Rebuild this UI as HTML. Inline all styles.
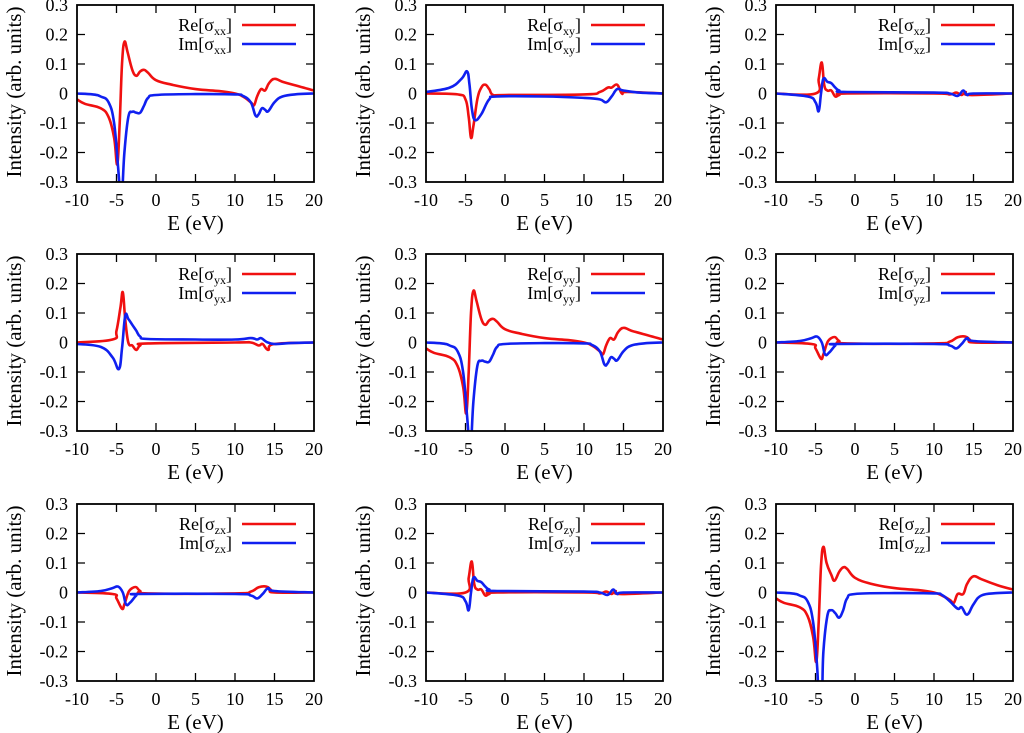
<!DOCTYPE html>
<html><head><meta charset="utf-8"><style>
body{margin:0;background:#fff}
svg{display:block}
text{font-family:"Liberation Serif",serif;fill:#000}
</style></head><body>
<svg id="s" width="1024" height="733" viewBox="0 0 1024 733" xmlns="http://www.w3.org/2000/svg"></svg>
<script>
const XX={re:[[-10,-0.02],[-9,-0.035],[-7,-0.05],[-6,-0.08],[-5.3,-0.15],[-4.9,-0.24],[-4.6,-0.1],[-4.3,0.1],[-4.0,0.175],[-3.6,0.14],[-3,0.08],[-2.5,0.06],[-2,0.075],[-1.5,0.08],[-1,0.07],[0,0.045],[2,0.03],[5,0.015],[8,0.008],[10,0],[11,-0.01],[12,-0.03],[12.4,-0.04],[12.8,-0.01],[13.3,0.015],[13.8,0.01],[14.3,0.035],[15,0.05],[16,0.04],[18,0.025],[20,0.01]],
im:[[-10,0],[-8,-0.003],[-7,-0.01],[-6,-0.03],[-5.3,-0.1],[-4.8,-0.25],[-4.5,-0.35],[-4.3,-0.35],[-4,-0.2],[-3.5,-0.08],[-3,-0.062],[-2.5,-0.065],[-2,-0.065],[-1.5,-0.04],[-1,-0.015],[0,-0.005],[5,-0.002],[10,-0.003],[11,-0.008],[12,-0.03],[12.6,-0.075],[13,-0.07],[13.4,-0.05],[13.8,-0.055],[14.2,-0.06],[15,-0.03],[16,-0.01],[18,-0.002],[20,0]]};
const XY={re:[[-10,0],[-6,-0.003],[-5,-0.02],[-4.6,-0.08],[-4.3,-0.15],[-4,-0.11],[-3.5,-0.02],[-3,0.02],[-2.5,0.03],[-2,0.015],[-1.5,-0.005],[0,-0.005],[10,-0.003],[12,0.005],[13,0.02],[13.5,0.02],[14.2,0.03],[14.8,0.0],[15.5,0.005],[20,0]],
im:[[-10,0.005],[-7,0.02],[-5.5,0.05],[-4.8,0.075],[-4.5,0.03],[-4.2,-0.05],[-3.8,-0.09],[-3,-0.07],[-2,-0.02],[-1,-0.01],[5,-0.01],[10,-0.015],[12,-0.02],[12.8,-0.03],[13.5,-0.01],[14.2,0.015],[15,0.01],[17,0.003],[20,0]]};
const XZ={re:[[-10,0],[-5,0],[-4.6,0.05],[-4.2,0.105],[-3.9,0.03],[-3.5,0.01],[-3,0.01],[-2.5,-0.01],[-2,-0.005],[-1,0],[10,0],[12,-0.003],[12.8,0.003],[13.5,-0.005],[14,0.005],[14.5,-0.005],[20,0]],
im:[[-10,0],[-6,-0.01],[-5,-0.03],[-4.6,-0.06],[-4.3,0.0],[-4,0.05],[-3.5,0.04],[-3,0.035],[-2.5,0.02],[-2,0.01],[-1,0.005],[10,0.003],[12,0.0],[13,-0.008],[13.7,0.01],[14.2,-0.005],[15,0],[20,0]]};
const YX={re:[[-10,0],[-5.5,0.01],[-5,0.04],[-4.5,0.12],[-4.2,0.17],[-3.9,0.08],[-3.5,0.0],[-3,-0.01],[-2.5,-0.025],[-2,-0.01],[-1,-0.003],[10,0],[12,0],[13,-0.01],[13.5,-0.005],[14.2,-0.025],[15,-0.005],[20,0]],
im:[[-10,-0.005],[-7,-0.015],[-5.5,-0.05],[-4.7,-0.09],[-4.3,-0.02],[-3.9,0.09],[-3.5,0.08],[-3,0.06],[-2.5,0.04],[-2,0.02],[-1,0.012],[5,0.01],[10,0.01],[12,0.015],[12.8,0.01],[13.3,0.015],[14,0.002],[15,-0.005],[17,-0.002],[20,0]]};
const YZ={re:[[-10,0],[-5.5,-0.005],[-5,-0.02],[-4.3,-0.055],[-4,-0.04],[-3.5,0.0],[-3,0.015],[-2.5,0.018],[-2,0.005],[-1,-0.003],[10,-0.003],[12,0.003],[13,0.018],[14,0.02],[14.5,0.01],[15,0],[20,0]],
im:[[-10,0],[-7,0.005],[-5.5,0.015],[-4.8,0.02],[-4.2,0.0],[-3.8,-0.04],[-3.3,-0.035],[-2.5,-0.01],[-2,-0.005],[10,-0.005],[12,-0.01],[12.8,-0.02],[13.5,-0.005],[14.2,0.015],[15,0.005],[20,0]]};
const ZZ={re:[[-10,-0.02],[-9,-0.035],[-7,-0.05],[-6,-0.08],[-5.3,-0.15],[-4.9,-0.235],[-4.6,-0.1],[-4.3,0.09],[-4.0,0.155],[-3.6,0.1],[-3,0.06],[-2.6,0.04],[-2,0.07],[-1.5,0.085],[-1,0.08],[0,0.05],[2,0.03],[5,0.015],[8,0.008],[10,0],[11,-0.01],[12,-0.025],[12.5,-0.035],[13,-0.005],[13.7,-0.005],[14.2,0.03],[15,0.055],[16,0.045],[18,0.025],[20,0.01]],
im:[[-10,0],[-8,-0.003],[-7,-0.01],[-6,-0.03],[-5.3,-0.1],[-4.8,-0.25],[-4.6,-0.35],[-4.2,-0.35],[-4,-0.2],[-3.5,-0.08],[-3,-0.06],[-2.5,-0.07],[-2,-0.085],[-1.5,-0.06],[-1,-0.02],[0,-0.005],[5,-0.002],[10,-0.003],[11,-0.008],[12,-0.03],[13,-0.055],[13.5,-0.05],[14.2,-0.075],[15,-0.04],[16,-0.01],[18,-0.002],[20,0]]};
const P=[["xx",XX],["xy",XY],["xz",XZ],["yx",YX],["yy",XX],["yz",YZ],["zx",YZ],["zy",XZ],["zz",ZZ]];
let h='<defs><clipPath id="c"><rect x="77" y="5" width="237" height="177"/></clipPath></defs>';
function smooth(pts){
 let d='M'+pts[0][0].toFixed(1)+' '+pts[0][1].toFixed(1);
 for(let i=0;i<pts.length-1;i++){
  const p0=pts[Math.max(i-1,0)],p1=pts[i],p2=pts[i+1],p3=pts[Math.min(i+2,pts.length-1)];
  const t=0.2;
  const c1=[p1[0]+(p2[0]-p0[0])*t,p1[1]+(p2[1]-p0[1])*t];
  const c2=[p2[0]-(p3[0]-p1[0])*t,p2[1]-(p3[1]-p1[1])*t];
  d+=`C${c1[0].toFixed(1)} ${c1[1].toFixed(1)} ${c2[0].toFixed(1)} ${c2[1].toFixed(1)} ${p2[0].toFixed(1)} ${p2[1].toFixed(1)}`;
 }
 return d;
}
P.forEach((p,i)=>{
 const dx=[0,349,699][i%3], dy=[0,249,499][Math.floor(i/3)];
 const X=e=>77+(e+10)*237/30, Y=v=>93.5-v*295;
 let g=`<g transform="translate(${dx},${dy})">`;
 for(let k=0;k<7;k++){const v=0.3-k*0.1,y=Y(v);
  g+=`<text x="68" y="${y+6}" font-size="18" text-anchor="end">${k==3?'0':(Math.round(v*10)/10).toFixed(1)}</text>`;
  if(k>0&&k<6)g+=`<path d="M77 ${y}h8M314 ${y}h-8" stroke="#000" stroke-width="1.3"/>`;}
 for(let k=0;k<7;k++){const e=-10+k*5,x=X(e);
  g+=`<text x="${x}" y="206" font-size="18" text-anchor="middle">${e}</text>`;
  if(k>0&&k<6)g+=`<path d="M${x} 182v-8M${x} 5v8" stroke="#000" stroke-width="1.3"/>`;}
 g+=`<text font-size="21" text-anchor="middle" transform="translate(21 92) rotate(-90)">Intensity (arb. units)</text>`;
 g+=`<text x="195.5" y="230" font-size="21" text-anchor="middle">E (eV)</text>`;
 const pp=a=>a.map(q=>[X(q[0]),Y(q[1])]);
 g+=`<g clip-path="url(#c)"><path d="${smooth(pp(p[1].re))}" fill="none" stroke="#f01010" stroke-width="2.6" stroke-linejoin="round"/><path d="${smooth(pp(p[1].im))}" fill="none" stroke="#1020f0" stroke-width="2.6" stroke-linejoin="round"/></g>`;
 g+=`<text x="232" y="31" font-size="18" text-anchor="end">Re[σ<tspan font-size="12" dy="4">${p[0]}</tspan><tspan dy="-4">]</tspan></text>`;
 g+=`<text x="232" y="50" font-size="18" text-anchor="end">Im[σ<tspan font-size="12" dy="4">${p[0]}</tspan><tspan dy="-4">]</tspan></text>`;
 g+=`<path d="M242 25h54" stroke="#f01010" stroke-width="2.6"/><path d="M242 44h54" stroke="#1020f0" stroke-width="2.6"/>`;
 g+=`<rect x="77" y="5" width="237" height="177" fill="none" stroke="#000" stroke-width="1.8"/></g>`;
 h+=g;
});
document.getElementById('s').innerHTML=h;
</script>
</body></html>
